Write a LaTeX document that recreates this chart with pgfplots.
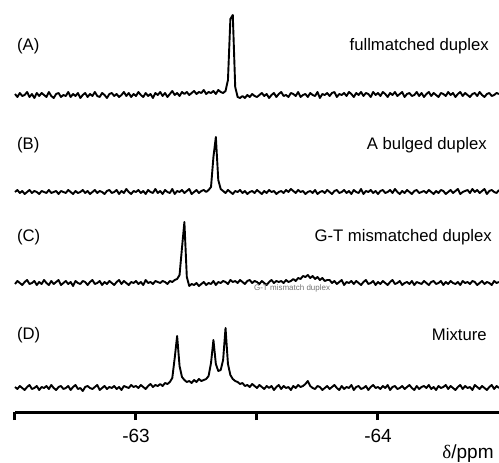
\documentclass[border=0pt]{standalone}
\usepackage{fontspec}
\setmainfont{Liberation Sans}
\newfontfamily\symfont{Liberation Serif}
\usepackage{pgfplots}
\usepackage{pgfplotstable}
\pgfplotsset{compat=1.18}

% 19F spectra, signal heights in px above each trace's baseline
\pgfplotstableread{
x A B C D
-62.50 1 0 -1 1
-62.51 -2 2 2 -1
-62.52 2 -1 0 2
-62.53 -1 1 -2 0
-62.54 0 -2 1 -2
-62.55 3 0 3 1
-62.56 -2 2 -1 3
-62.57 1 -1 0 -1
-62.58 -3 1 2 0
-62.59 2 0 -2 2
-62.60 -1 -2 1 -2
-62.61 2 1 -1 1
-62.62 0 0 3 0
-62.63 -2 -1 0 2
-62.64 3 2 -2 -1
-62.65 -1 -1 2 3
-62.66 -3 0 -1 0
-62.67 1 1 1 -2
-62.68 2 -2 3 1
-62.69 -2 1 -2 2
-62.70 0 0 0 -1
-62.71 -1 -1 2 0
-62.72 3 2 -1 2
-62.73 -2 0 1 -2
-62.74 1 -2 -3 1
-62.75 -1 1 2 3
-62.76 2 -1 0 -1
-62.77 -3 0 -1 0
-62.78 0 2 2 -3
-62.79 2 -1 1 1
-62.80 -2 1 -2 2
-62.81 1 -2 1 0
-62.82 -1 0 3 -1
-62.83 3 2 -1 1
-62.84 -1 -1 0 3
-62.85 -2 1 2 -2
-62.86 2 0 -2 0
-62.87 0 -2 1 2
-62.88 -3 1 -1 -1
-62.89 1 2 2 1
-62.90 2 -1 0 0
-62.91 -1 0 -2 2
-62.92 1 2 1 -1
-62.93 -2 -2 3 1
-62.94 0 1 -1 -2
-62.95 3 -1 2 2
-62.96 -1 3 0 1
-62.97 2 0 -2 0
-62.98 -2 -2 1 3
-62.99 1 1 0 1
-63.00 -1 0 2 2
-63.01 3 2 -1 0
-63.02 0 -1 1 3
-63.03 -2 1 -2 1
-63.04 2 -2 3 -1
-63.05 -1 2 0 2
-63.06 1 0 1 4
-63.07 -3 -1 -1 1
-63.08 2 3 2 3
-63.09 0 -1 1 2
-63.10 3 1 0 4
-63.11 -1 -2 2 2
-63.12 2 2 1 5
-63.13 -2 0 -1 4
-63.14 1 -1 2 6
-63.15 4 3 1 10
-63.16 0 -2 3 30
-63.17 2 1 4 52
-63.18 -1 0 8 22
-63.19 3 2 35 11
-63.20 1 -1 61 8
-63.21 3 1 6 6
-63.22 0 3 -3 7
-63.23 2 -2 -1 5
-63.24 4 0 -2 8
-63.25 1 2 0 6
-63.26 3 -1 -3 9
-63.27 2 1 -1 7
-63.28 5 2 1 8
-63.29 1 0 -2 9
-63.30 3 2 0 12
-63.31 2 5 -1 25
-63.32 4 35 2 48
-63.33 1 55 -2 24
-63.34 5 12 1 17
-63.35 3 3 0 18
-63.36 2 1 2 28
-63.37 4 -1 1 60
-63.38 15 2 -1 24
-63.39 76 0 3 13
-63.40 80 -2 1 9
-63.41 8 1 2 7
-63.42 -2 0 0 6
-63.43 -3 2 3 4
-63.44 -1 -1 1 5
-63.45 -3 1 -1 2
-63.46 0 -2 2 3
-63.47 -2 0 3 1
-63.48 1 1 0 4
-63.49 -1 -1 2 2
-63.50 -2 2 1 0
-63.51 0 0 -1 3
-63.52 2 -2 2 1
-63.53 -1 1 0 -1
-63.54 1 -1 -2 2
-63.55 -3 2 1 0
-63.56 0 0 3 2
-63.57 2 1 0 -2
-63.58 -2 -2 2 1
-63.59 1 0 1 3
-63.60 3 1 2 -1
-63.61 -1 -1 0 2
-63.62 0 2 3 0
-63.63 -2 0 1 1
-63.64 2 3 2 -2
-63.65 1 1 4 2
-63.66 -1 -1 2 0
-63.67 3 2 5 3
-63.68 -2 0 4 1
-63.69 0 1 7 2
-63.70 1 -2 6 4
-63.71 -2 0 8 7
-63.72 2 1 5 2
-63.73 0 -1 7 0
-63.74 -1 2 4 -1
-63.75 3 -2 6 2
-63.76 -3 0 3 1
-63.77 1 1 5 -2
-63.78 0 -1 2 0
-63.79 2 2 3 2
-63.80 -1 0 3 -1
-63.81 2 -2 0 1
-63.82 3 1 2 3
-63.83 -2 2 -1 0
-63.84 1 -1 1 -2
-63.85 0 0 3 2
-63.86 2 2 -2 -1
-63.87 -1 -1 1 1
-63.88 3 1 0 0
-63.89 1 -2 2 3
-63.90 -2 2 -1 -2
-63.91 2 0 2 1
-63.92 0 -1 0 2
-63.93 3 3 -2 -1
-63.94 -1 -2 1 0
-63.95 2 1 3 2
-63.96 1 0 -1 -2
-63.97 -2 2 0 1
-63.98 3 -1 2 3
-63.99 0 1 -2 0
-64.00 2 -2 1 1
-64.01 -1 1 -1 -1
-64.02 3 2 2 2
-64.03 1 -1 0 0
-64.04 -2 0 -2 3
-64.05 2 2 1 -2
-64.06 0 -1 3 1
-64.07 3 3 -1 2
-64.08 -1 0 0 -1
-64.09 1 -2 2 0
-64.10 3 1 -2 2
-64.11 -2 -1 0 -1
-64.12 1 2 1 1
-64.13 2 0 -1 3
-64.14 -1 -2 2 0
-64.15 0 1 -2 -2
-64.16 3 2 1 2
-64.17 -1 -1 0 -1
-64.18 2 0 -1 1
-64.19 -2 1 2 2
-64.20 1 -1 0 0
-64.21 3 2 -2 3
-64.22 -1 0 1 -1
-64.23 2 -2 2 1
-64.24 0 1 -1 -2
-64.25 -2 -1 0 2
-64.26 2 2 2 0
-64.27 1 1 -2 1
-64.28 -1 -2 1 3
-64.29 3 0 -1 -1
-64.30 0 2 2 2
-64.31 2 -1 0 0
-64.32 -2 1 -1 -2
-64.33 1 3 1 1
-64.34 3 -2 -2 3
-64.35 -1 0 2 -1
-64.36 2 1 0 2
-64.37 0 2 1 0
-64.38 -2 -1 -1 1
-64.39 1 3 2 -2
-64.40 2 0 1 3
-64.41 -1 2 -2 1
-64.42 3 -1 0 -1
-64.43 0 1 2 2
-64.44 -2 3 -1 0
-64.45 1 -2 1 -2
-64.46 2 1 0 1
-64.47 -1 2 -2 3
-64.48 0 0 2 -1
-64.49 2 -1 0 2
-64.50 1 2 1 0
}\spec

\begin{document}
\begin{tikzpicture}
\useasboundingbox (-15bp,-51bp) rectangle (484bp,412bp);
\begin{axis}[
  at={(0,0)}, anchor=south west,
  scale only axis, width=484bp, height=412bp,
  x dir=reverse,
  xmin=-64.5, xmax=-62.5,
  ymin=0, ymax=412,
  axis x line=bottom, axis y line=none,
  axis line style={-, line width=3bp},
  xtick={-62.5,-63,-63.5,-64},
  xticklabels={,-63,,-64},
  tick align=outside,
  major tick length=8bp,
  tick style={black, line width=3bp},
  xticklabel style={font=\fontsize{19bp}{22bp}\selectfont, yshift=-6bp},
  clip=false,
]
\addplot[black, line width=1.9bp, line join=round, mark=none]
  table[x=x, y expr=\thisrow{A}+317] {\spec};
\addplot[black, line width=1.9bp, line join=round, mark=none]
  table[x=x, y expr=\thisrow{B}+220] {\spec};
\addplot[black, line width=1.9bp, line join=round, mark=none]
  table[x=x, y expr=\thisrow{C}+129] {\spec};
\addplot[black, line width=1.9bp, line join=round, mark=none]
  table[x=x, y expr=\thisrow{D}+24] {\spec};

\begin{scope}[font=\fontsize{16.7bp}{20bp}\selectfont, inner sep=0pt]
\node[anchor=west] at (axis cs:-62.508,366) {(A)};
\node[anchor=west] at (axis cs:-62.508,267) {(B)};
\node[anchor=west] at (axis cs:-62.508,175) {(C)};
\node[anchor=west] at (axis cs:-62.508,77) {(D)};
\node[anchor=east] at (axis cs:-64.459,366) {fullmatched duplex};
\node[anchor=east] at (axis cs:-64.450,267) {A bulged duplex};
\node[anchor=east] at (axis cs:-64.471,175) {G-T mismatched duplex};
\node[anchor=east] at (axis cs:-64.450,77) {Mixture};
\end{scope}
\node[font=\fontsize{8bp}{9bp}\selectfont, text=black!55, inner sep=0pt]
  at (axis cs:-63.645,124) {G-T mismatch duplex};
\node[font=\fontsize{19bp}{22bp}\selectfont, inner sep=0pt, anchor=base]
  at (axis cs:-64.372,-46.5) {{\symfont δ}/ppm};
\end{axis}
\end{tikzpicture}
\end{document}
